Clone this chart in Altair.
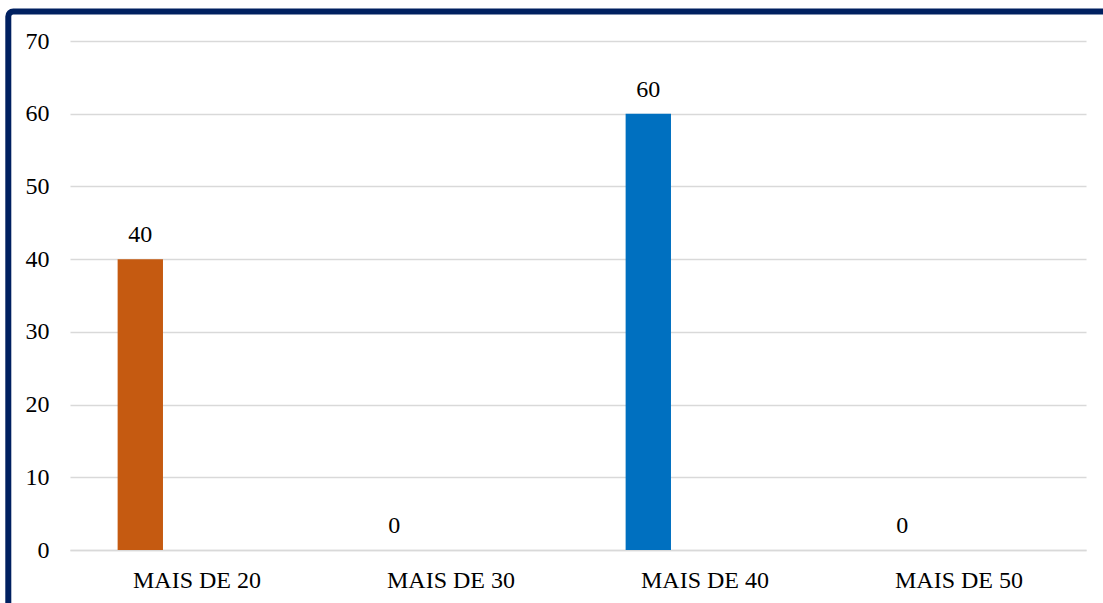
import altair as alt
import pandas as pd

categories = ["MAIS DE 20", "MAIS DE 30", "MAIS DE 40", "MAIS DE 50"]
values = [40, 0, 60, 0]
bar_colors = ["#C55A11", "#A5A5A5", "#0070C0", "#FFC000"]
series = ["S1", "S1", "S1", "S1"]
series_domain = ["S1", "S2"]
y_ticks = [0, 10, 20, 30, 40, 50, 60, 70]

df = pd.DataFrame({"cat": categories, "val": values, "s": series})

FONT = "'Liberation Serif', 'Times New Roman', 'DejaVu Serif', serif"

x = alt.X("cat:N", sort=categories,
          scale=alt.Scale(paddingInner=0, paddingOuter=0),
          axis=alt.Axis(title=None, labelAngle=0, ticks=False, domainColor="#D9D9D9",
                        domainWidth=1.5, labelPadding=18, labelFontSize=24,
                        labelFont=FONT, labelColor="#000000"))
y = alt.Y("val:Q", scale=alt.Scale(domain=[0, 70], nice=False),
          axis=alt.Axis(title=None, values=y_ticks, domain=False, ticks=False,
                        gridColor="#D9D9D9", gridWidth=1.5, labelPadding=21,
                        labelFontSize=24, labelFont=FONT, labelColor="#000000"))
xo = alt.XOffset("s:N", scale=alt.Scale(domain=series_domain, paddingInner=0.6, paddingOuter=0.42))

base = alt.Chart(df)
bars = base.mark_bar().encode(
    x=x, y=y, xOffset=xo,
    color=alt.Color("cat:N", scale=alt.Scale(domain=categories, range=bar_colors), legend=None),
)
labels = base.mark_text(baseline="alphabetic", dy=-17, fontSize=24, font=FONT, color="#000000").encode(
    x=x, y=y, xOffset=xo, text=alt.Text("val:Q")
)

border = alt.Chart(pd.DataFrame({"a": [0]})).mark_rect(
    fill=None, stroke="#002060", strokeWidth=6, cornerRadius=5
).encode(
    x=alt.value(-61.7), x2=alt.value(1060),
    y=alt.value(-29.5), y2=alt.value(590),
)

chart = alt.layer(bars, labels, border).properties(
    width=1016, height=509,
    autosize=alt.AutoSizeParams(type="none"),
    padding={"left": 70, "top": 41, "right": 17, "bottom": 53},
    background="#FFFFFF",
).configure(font=FONT).configure_view(stroke=None)

chart.save("out.html", embed_options={"renderer": "svg", "actions": False})
